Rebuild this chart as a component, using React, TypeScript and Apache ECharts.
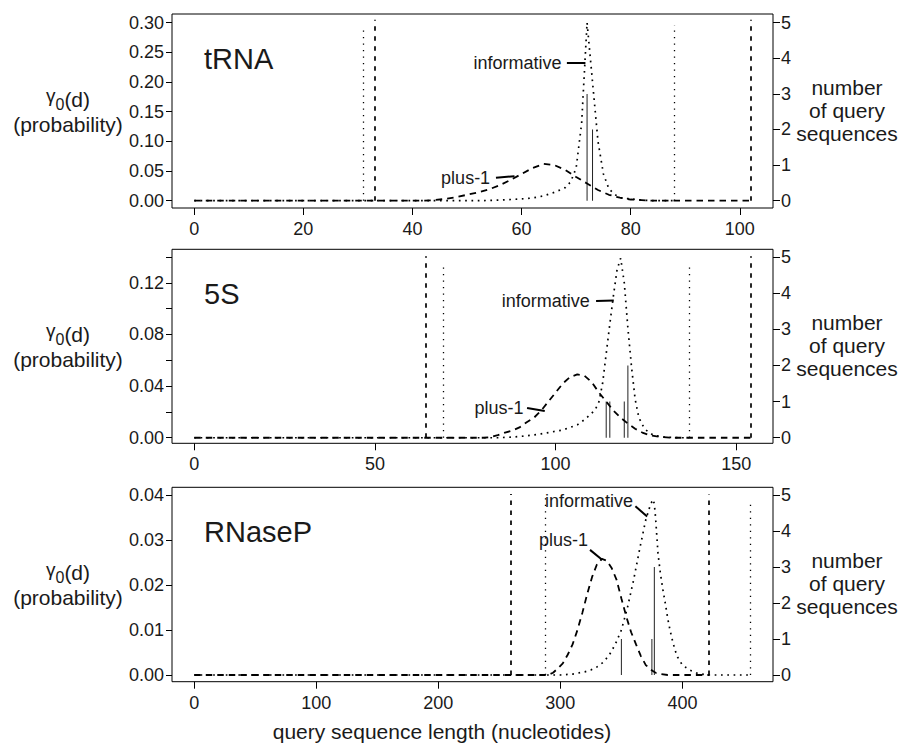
import React, { useEffect, useRef } from "react";
import * as echarts from "echarts";

// ---------- tRNA ----------
const trnaInfoX = [0, 52, 56, 58, 60, 62, 64, 66, 68, 69, 70, 71, 72, 73, 74, 75, 76, 77, 78, 80, 82, 84, 88];
const trnaInfoY = [0, 0, 0.001, 0.002, 0.003, 0.0045, 0.008, 0.014, 0.022, 0.032, 0.055, 0.13, 0.3, 0.2, 0.1, 0.045, 0.02, 0.011, 0.005, 0.003, 0.001, 0, 0];
const trnaP1X = [0, 42, 44, 46, 48, 50, 52, 54, 56, 58, 60, 62, 64, 66, 68, 70, 72, 74, 76, 78, 80, 82, 84, 102];
const trnaP1Y = [0, 0, 0.001, 0.003, 0.006, 0.01, 0.014, 0.019, 0.026, 0.035, 0.045, 0.055, 0.062, 0.06, 0.052, 0.04, 0.029, 0.018, 0.01, 0.005, 0.002, 0.001, 0, 0];
const trnaDottedX = [31, 88];
const trnaDottedTop = [0.295, 0.296];
const trnaDashedX = [33, 102];
const trnaDashedTop = [0.305, 0.305];
const trnaCountX = [72, 73];
const trnaCountN = [3, 2];

// ---------- 5S ----------
const s5InfoX = [0, 84, 88, 92, 96, 100, 102, 104, 106, 108, 110, 111, 112, 113, 114, 115, 116, 117, 118, 119, 120, 121, 122, 123, 124, 125, 127, 130, 134, 137];
const s5InfoY = [0, 0, 0.0005, 0.0015, 0.003, 0.005, 0.006, 0.008, 0.01, 0.014, 0.019, 0.022, 0.028, 0.042, 0.065, 0.088, 0.11, 0.13, 0.139, 0.12, 0.085, 0.055, 0.03, 0.016, 0.01, 0.006, 0.002, 0.0005, 0, 0];
const s5P1X = [0, 80, 82, 84, 86, 88, 90, 92, 94, 96, 98, 100, 102, 104, 106, 108, 110, 112, 114, 116, 118, 120, 122, 124, 126, 128, 132, 154];
const s5P1Y = [0, 0, 0.0005, 0.002, 0.004, 0.0055, 0.008, 0.012, 0.0155, 0.021, 0.028, 0.035, 0.042, 0.047, 0.049, 0.048, 0.043, 0.035, 0.028, 0.021, 0.0155, 0.011, 0.007, 0.004, 0.002, 0.001, 0, 0];
const s5DottedX = [69, 137];
const s5DottedTop = [0.1357, 0.1357];
const s5DashedX = [64, 154];
const s5DashedTop = [0.1405, 0.1405];
const s5CountX = [114, 115, 119, 120];
const s5CountN = [1, 1, 1, 2];

// ---------- RNaseP ----------
const rnpInfoX = [0, 300, 310, 320, 325, 330, 335, 340, 345, 350, 355, 360, 365, 370, 374, 376, 377, 378, 379, 380, 382, 384, 386, 388, 390, 392, 394, 396, 400, 406, 412, 420, 456];
const rnpInfoY = [0, 0, 0.0002, 0.0007, 0.0011, 0.0018, 0.0028, 0.0044, 0.0068, 0.01, 0.015, 0.0211, 0.028, 0.0345, 0.038, 0.039, 0.038, 0.035, 0.031, 0.027, 0.0225, 0.019, 0.0159, 0.0125, 0.0098, 0.0075, 0.0055, 0.004, 0.0022, 0.0011, 0.0004, 0, 0];
const rnpP1X = [0, 290, 294, 298, 302, 306, 310, 314, 318, 322, 326, 330, 334, 338, 342, 346, 350, 354, 358, 362, 366, 370, 374, 378, 382, 388, 422];
const rnpP1Y = [0, 0, 0.0005, 0.0015, 0.0026, 0.0045, 0.0068, 0.01, 0.0138, 0.018, 0.0218, 0.0246, 0.0258, 0.0254, 0.0238, 0.0212, 0.017, 0.013, 0.0095, 0.0068, 0.0042, 0.0022, 0.0012, 0.0005, 0.0002, 0, 0];
const rnpDottedX = [288, 456];
const rnpDottedTop = [0.0398, 0.0389];
const rnpDashedX = [259, 422];
const rnpDashedTop = [0.0402, 0.0401];
const rnpCountX = [350, 375, 377];
const rnpCountN = [1, 1, 3];

// ---------- ticks ----------
const trnaXTicks = [0, 20, 40, 60, 80, 100];
const s5XTicks = [0, 50, 100, 150];
const rnpXTicks = [0, 100, 200, 300, 400];
const trnaYTicks = [0, 0.05, 0.1, 0.15, 0.2, 0.25, 0.3];
const trnaYLabels = [0, 0.05, 0.1, 0.15, 0.2, 0.25, 0.3];
const s5YTicks = [0, 0.02, 0.04, 0.06, 0.08, 0.1, 0.12, 0.14];
const s5YLabels = [0, 0.04, 0.08, 0.12];
const rnpYTicks = [0, 0.01, 0.02, 0.03, 0.04];
const rnpYLabels = [0, 0.01, 0.02, 0.03, 0.04];
const countTicks = [0, 1, 2, 3, 4, 5];

const FONT = "'Liberation Sans', Arial, Helvetica, sans-serif";
const INK = "#1a1a1a";

type Panel = {
  name: string;
  infoX: number[]; infoY: number[];
  p1X: number[]; p1Y: number[];
  dotX: number[]; dotTop: number[];
  dashX: number[]; dashTop: number[];
  cntX: number[]; cntN: number[];
  xTicks: number[]; yTicks: number[]; yLabels: number[];
  layout: {
    top: number; height: number;
    xMin: number; xMax: number; yMin: number; yMax: number; yAtFive: number;
    infoLabel: [number, number]; infoPtr: [number, number, number, number];
    p1Label: [number, number]; p1Ptr: [number, number, number, number];
  };
};

const panels: Panel[] = [
  {
    name: "tRNA",
    infoX: trnaInfoX, infoY: trnaInfoY, p1X: trnaP1X, p1Y: trnaP1Y,
    dotX: trnaDottedX, dotTop: trnaDottedTop, dashX: trnaDashedX, dashTop: trnaDashedTop,
    cntX: trnaCountX, cntN: trnaCountN,
    xTicks: trnaXTicks, yTicks: trnaYTicks, yLabels: trnaYLabels,
    layout: {
      top: 14, height: 194, xMin: -4.08, xMax: 106.08, yMin: -0.0123, yMax: 0.3146, yAtFive: 0.3,
      infoLabel: [67.7, 0.232], infoPtr: [68.3, 0.232, 71.7, 0.232],
      p1Label: [54.6, 0.0387], p1Ptr: [55.3, 0.0387, 58.7, 0.0412],
    },
  },
  {
    name: "5S",
    infoX: s5InfoX, infoY: s5InfoY, p1X: s5P1X, p1Y: s5P1Y,
    dotX: s5DottedX, dotTop: s5DottedTop, dashX: s5DashedX, dashTop: s5DashedTop,
    cntX: s5CountX, cntN: s5CountN,
    xTicks: s5XTicks, yTicks: s5YTicks, yLabels: s5YLabels,
    layout: {
      top: 249.3, height: 194, xMin: -6.16, xMax: 160.16, yMin: -0.0043, yMax: 0.1459, yAtFive: 0.14,
      infoLabel: [110.0, 0.1058], infoPtr: [111.2, 0.1058, 116.1, 0.1062],
      p1Label: [91.7, 0.023], p1Ptr: [92.1, 0.023, 97.0, 0.0207],
    },
  },
  {
    name: "RNaseP",
    infoX: rnpInfoX, infoY: rnpInfoY, p1X: rnpP1X, p1Y: rnpP1Y,
    dotX: rnpDottedX, dotTop: rnpDottedTop, dashX: rnpDashedX, dashTop: rnpDashedTop,
    cntX: rnpCountX, cntN: rnpCountN,
    xTicks: rnpXTicks, yTicks: rnpYTicks, yLabels: rnpYLabels,
    layout: {
      top: 487.3, height: 194.4, xMin: -18.24, xMax: 474.24, yMin: -0.00149, yMax: 0.04171, yAtFive: 0.04,
      infoLabel: [361.2, 0.0387], infoPtr: [361.5, 0.0375, 371.1, 0.0352],
      p1Label: [324.3, 0.03], p1Ptr: [324.3, 0.0278, 334.2, 0.0256],
    },
  },
];

const zip = (xs: number[], ys: number[]) => xs.map((x, i) => [x, ys[i]]);

function buildOption() {
  const grid: any[] = [];
  const xAxis: any[] = [];
  const yAxis: any[] = [];
  const series: any[] = [];
  const graphic: any[] = [];
  const labelStyle = { fontFamily: FONT, fontSize: 18, color: INK };

  panels.forEach((p, i) => {
    const L = p.layout;
    grid.push({
      left: 172, width: 601, top: L.top, height: L.height,
      show: true, borderColor: "#000", borderWidth: 1, backgroundColor: "transparent",
    });
    xAxis.push({
      type: "value", gridIndex: i, min: L.xMin, max: L.xMax,
      axisLine: { show: false, onZero: false },
      splitLine: { show: false },
      axisTick: { show: true, length: 7, lineStyle: { color: "#000", width: 1 }, customValues: p.xTicks },
      axisLabel: { ...labelStyle, margin: 12, customValues: p.xTicks, formatter: (v: number) => String(v) },
    });
    const f = 5 / L.yAtFive;
    yAxis.push({
      type: "value", gridIndex: i, position: "left", min: L.yMin, max: L.yMax,
      axisLine: { show: false, onZero: false },
      splitLine: { show: false },
      axisTick: { show: true, length: 6, lineStyle: { color: "#000", width: 1 }, customValues: p.yTicks },
      axisLabel: { ...labelStyle, margin: 8, customValues: p.yLabels, formatter: (v: number) => v.toFixed(2) },
    });
    yAxis.push({
      type: "value", gridIndex: i, position: "right", min: L.yMin * f, max: L.yMax * f,
      axisLine: { show: false, onZero: false },
      splitLine: { show: false },
      axisTick: { show: true, length: 7, lineStyle: { color: "#000", width: 1 }, customValues: countTicks },
      axisLabel: { ...labelStyle, margin: 8, customValues: countTicks, formatter: (v: number) => String(Math.round(v)) },
    });
    const yl = 2 * i, yr = 2 * i + 1;
    // counts (right axis)
    series.push({
      type: "bar", xAxisIndex: i, yAxisIndex: yr, data: zip(p.cntX, p.cntN),
      barWidth: 1, itemStyle: { color: "#222" }, silent: true, z: 2,
    });
    // informative (dotted)
    series.push({
      type: "line", xAxisIndex: i, yAxisIndex: yl, data: zip(p.infoX, p.infoY),
      symbol: "none", silent: true, z: 3,
      lineStyle: { color: "#000", width: 1.7, type: [1.7, 4.6] },
    });
    // plus-1 (dashed)
    series.push({
      type: "line", xAxisIndex: i, yAxisIndex: yl, data: zip(p.p1X, p.p1Y),
      symbol: "none", silent: true, z: 3,
      lineStyle: { color: "#000", width: 1.8, type: [6.5, 5] },
    });
    // range bounds (vertical lines) as markLines on the curve series
    series.push({
      type: "line", xAxisIndex: i, yAxisIndex: yl, data: [], symbol: "none", silent: true, z: 3,
      markLine: {
        silent: true, symbol: ["none", "none"], label: { show: false }, animation: false,
        lineStyle: { color: "#000", width: 1.3, type: [1.3, 5.2] },
        data: p.dotX.map((x, k) => [{ coord: [x, 0] }, { coord: [x, p.dotTop[k]] }]),
      },
    });
    series.push({
      type: "line", xAxisIndex: i, yAxisIndex: yl, data: [], symbol: "none", silent: true, z: 3,
      markLine: {
        silent: true, symbol: ["none", "none"], label: { show: false }, animation: false,
        lineStyle: { color: "#000", width: 1.7, type: [4.5, 5.5] },
        data: p.dashX.map((x, k) => [{ coord: [x, 0] }, { coord: [x, p.dashTop[k]] }]),
      },
    });
    // annotations
    const annLabel = {
      show: true, position: "left", distance: 2, fontFamily: FONT, fontSize: 18, color: INK,
      opacity: 1, textBorderWidth: 0, formatter: (q: any) => q.data[2],
    };
    series.push({
      type: "scatter", xAxisIndex: i, yAxisIndex: yl, symbolSize: 0, silent: true,
      itemStyle: { opacity: 1, color: "#000" },
      data: [[L.infoLabel[0], L.infoLabel[1], "informative"], [L.p1Label[0], L.p1Label[1], "plus-1"]],
      label: annLabel, z: 5,
    });
    [L.infoPtr, L.p1Ptr].forEach((ptr) => {
      series.push({
        type: "line", xAxisIndex: i, yAxisIndex: yl, data: [[ptr[0], ptr[1]], [ptr[2], ptr[3]]],
        symbol: "none", silent: true, z: 5,
        lineStyle: { color: "#000", width: 2, type: "solid" },
      });
    });

    const cy = L.top + L.height / 2;
    graphic.push({
      type: "text", x: 204, y: L.top + 45,
      style: { text: p.name, fontFamily: FONT, fontSize: 29, fill: INK, align: "left", verticalAlign: "middle", textAlign: "left", textVerticalAlign: "middle" },
    });
    graphic.push({
      type: "text", x: 68, y: cy - 12,
      style: {
        text: "{g|γ}{s|0}{n|(d)}", fill: INK, align: "center", verticalAlign: "middle", textAlign: "center", textVerticalAlign: "middle",
        rich: {
          g: { fontFamily: FONT, fontSize: 19, fill: INK, verticalAlign: "top", lineHeight: 26 },
          s: { fontFamily: FONT, fontSize: 16, fill: INK, verticalAlign: "bottom", lineHeight: 18 },
          n: { fontFamily: FONT, fontSize: 21, fill: INK, lineHeight: 26, verticalAlign: "middle" },
        },
      },
    });
    graphic.push({
      type: "text", x: 68, y: cy + 13,
      style: { text: "(probability)", fontFamily: FONT, fontSize: 21, fill: INK, align: "center", verticalAlign: "middle", textAlign: "center", textVerticalAlign: "middle" },
    });
    graphic.push({
      type: "text", x: 847, y: cy - 1,
      style: { text: "number\nof query\nsequences", fontFamily: FONT, fontSize: 21, lineHeight: 23, fill: INK, align: "center", verticalAlign: "middle", textAlign: "center", textVerticalAlign: "middle" },
    });
  });

  graphic.push({
    type: "text", x: 442, y: 731,
    style: { text: "query sequence length (nucleotides)", fontFamily: FONT, fontSize: 21, fill: INK, align: "center", verticalAlign: "middle", textAlign: "center", textVerticalAlign: "middle" },
  });

  return {
    animation: false,
    backgroundColor: "#ffffff",
    grid, xAxis, yAxis, series, graphic,
  };
}

export default function App() {
  const ref = useRef<HTMLDivElement>(null);
  useEffect(() => {
    document.body.style.margin = "0";
    const chart = echarts.init(ref.current!, null, { renderer: "svg" });
    chart.setOption(buildOption() as any);
    return () => chart.dispose();
  }, []);
  return <div ref={ref} style={{ width: 905, height: 743, position: "absolute", left: 0, top: 0 }} />;
}
